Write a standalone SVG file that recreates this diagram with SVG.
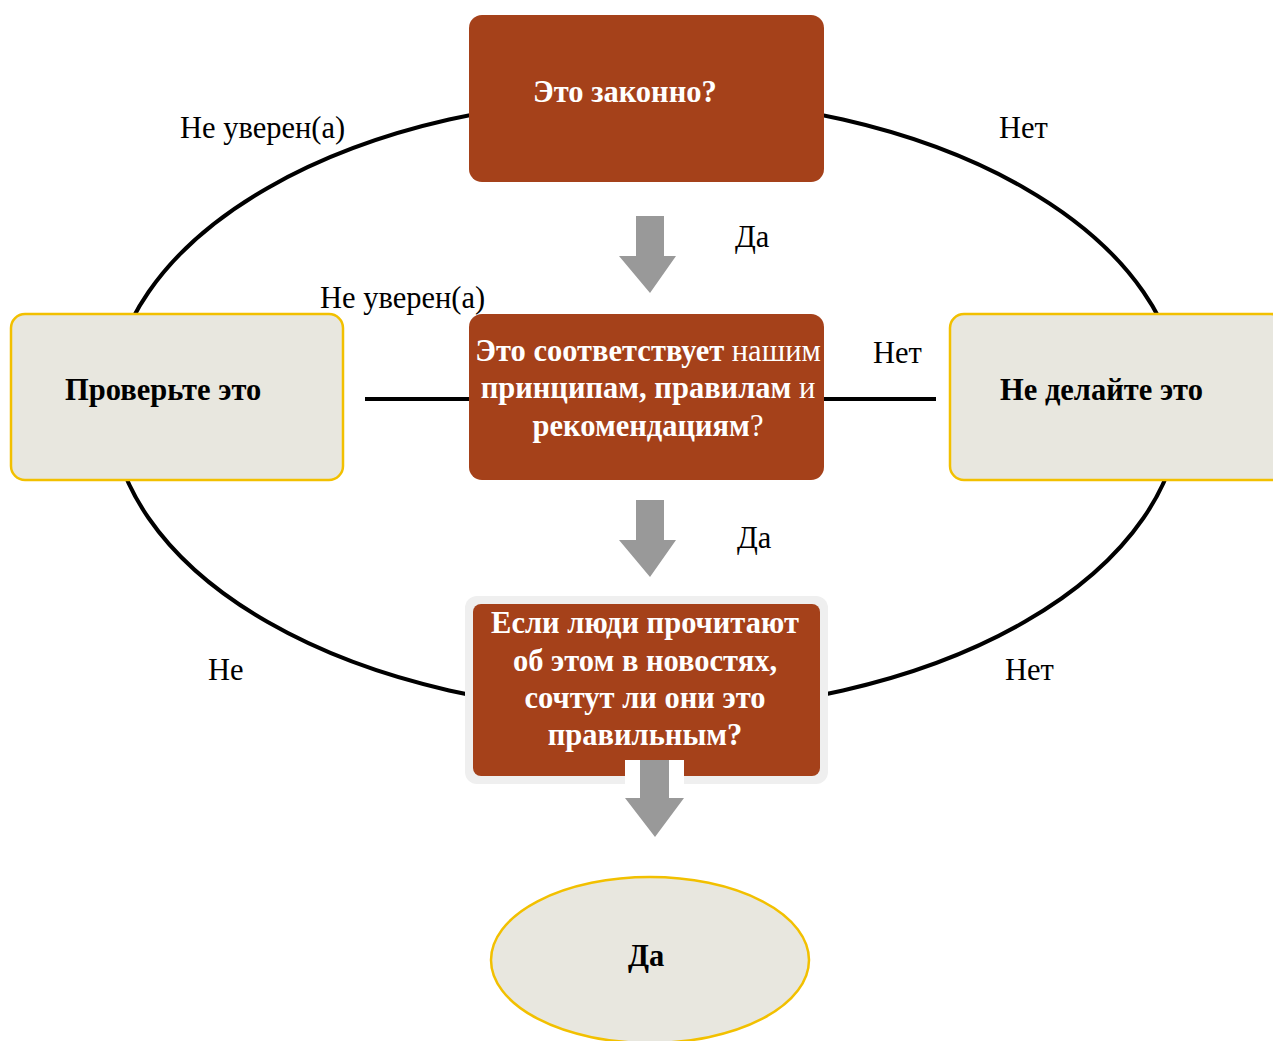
<svg xmlns="http://www.w3.org/2000/svg" width="1273" height="1041" viewBox="0 0 1273 1041">
<style>
.lbl{font-family:"Liberation Serif","Times New Roman",serif;font-size:30.5px;fill:#000}
.wt{font-family:"Liberation Serif","Times New Roman",serif;font-size:30.5px;fill:#fff;font-weight:bold}
.bk{font-family:"Liberation Serif","Times New Roman",serif;font-size:30.5px;fill:#000;font-weight:bold}
.n{font-weight:normal}
.brown{fill:#A5411A}
.light{fill:#E8E7DF;stroke:#F2C000;stroke-width:2.5}
.arrow{fill:#999999}
.conn{fill:none;stroke:#000;stroke-width:4}
</style>
<rect width="1273" height="1041" fill="#fff"/>
<g id="connectors">
<ellipse class="conn" cx="646" cy="405" rx="535" ry="307"/>
<line class="conn" x1="365" y1="399" x2="470" y2="399"/>
<line class="conn" x1="823" y1="399" x2="936" y2="399"/>
<path class="arrow" d="M636,216 H664 V256 H676 L650,293 L619,256 H636 Z"/>
<path class="arrow" d="M636,500 H664 V540 H676 L650,577 L619,540 H636 Z"/>
</g>
<g id="labels">
<text class="lbl" x="180" y="138">Не уверен(а)</text>
<text class="lbl" x="999" y="138">Нет</text>
<text class="lbl" x="735" y="247">Да</text>
<text class="lbl" x="320" y="308">Не уверен(а)</text>
<text class="lbl" x="873" y="363">Нет</text>
<text class="lbl" x="737" y="548">Да</text>
<text class="lbl" x="208" y="680">Не</text>
<text class="lbl" x="1005" y="680">Нет</text>
</g>
<g id="node-legal">
<rect class="brown" x="469" y="15" width="355" height="167" rx="13"/>
<text class="wt" x="533" y="102">Это законно?</text>
</g>
<g id="node-principles">
<rect class="brown" x="469" y="314" width="355" height="166" rx="13"/>
<text class="wt" text-anchor="middle" x="648" y="361">Это соответствует <tspan class="n">нашим</tspan></text>
<text class="wt" text-anchor="middle" x="648" y="398">принципам, правилам <tspan class="n">и</tspan></text>
<text class="wt" text-anchor="middle" x="648" y="436">рекомендациям<tspan class="n">?</tspan></text>
</g>
<g id="node-check">
<rect class="light" x="11" y="314" width="332" height="166" rx="14"/>
<text class="bk" x="65" y="400">Проверьте это</text>
</g>
<g id="node-dont">
<rect class="light" x="950" y="314" width="335" height="166" rx="14"/>
<text class="bk" x="1000" y="400">Не делайте это</text>
</g>
<g id="node-news">
<rect x="465" y="596" width="363" height="188" rx="12" fill="#EFEFEF"/>
<rect class="brown" x="473" y="604" width="347" height="172" rx="8"/>
<text class="wt" text-anchor="middle" x="645" y="633">Если люди прочитают</text>
<text class="wt" text-anchor="middle" x="645" y="671">об этом в новостях,</text>
<text class="wt" text-anchor="middle" x="645" y="708">сочтут ли они это</text>
<text class="wt" text-anchor="middle" x="645" y="745">правильным?</text>
<rect x="625" y="760" width="59" height="40" fill="#fff"/>
<path class="arrow" d="M640,760 H669 V798 H684 L655,837 L625,798 H640 Z"/>
</g>
<g id="node-yes">
<ellipse class="light" cx="650" cy="960" rx="159" ry="83"/>
<text class="bk" x="628" y="966">Да</text>
</g>
</svg>
